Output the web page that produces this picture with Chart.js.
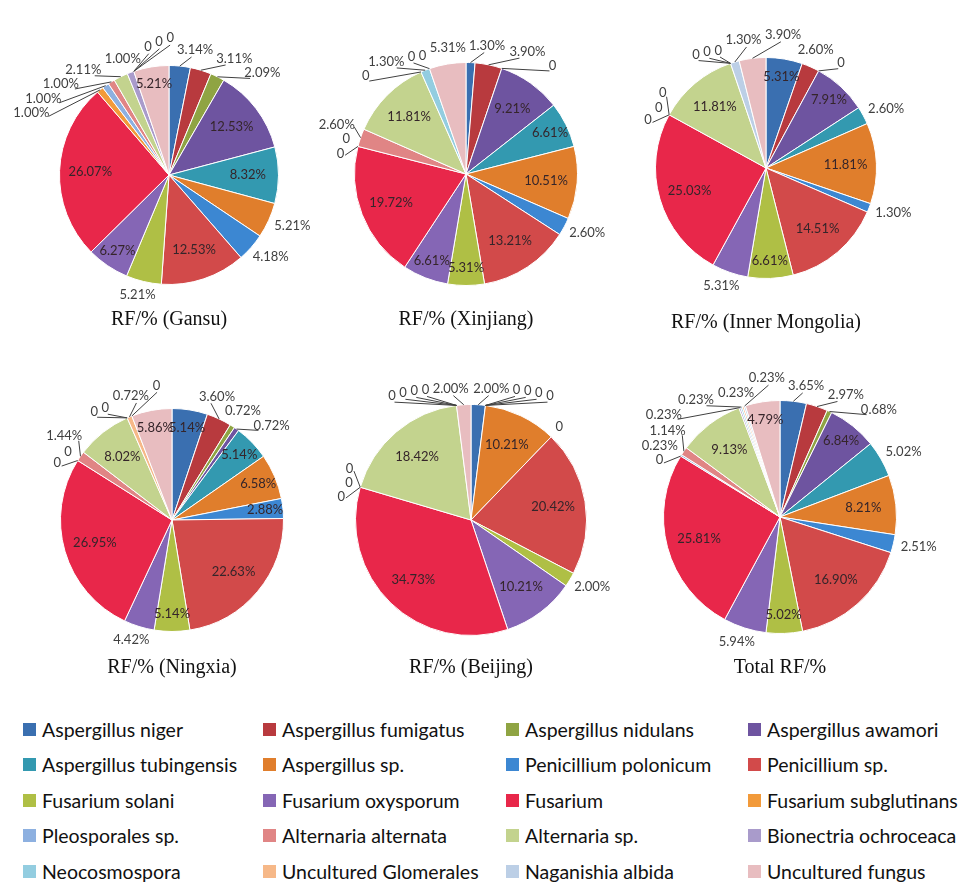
<!DOCTYPE html>
<html>
<head>
<meta charset="utf-8">
<script src="https://cdn.jsdelivr.net/npm/chart.js@4.4.1/dist/chart.umd.min.js"></script>
<style>
  body { margin: 0; background: #fff; }
  #wrap { position: relative; width: 963px; height: 888px; overflow: hidden; }
  #wrap canvas { position: absolute; }
  .leg { position: absolute; display: flex; align-items: center; height: 24px;
         font-family: Lato, sans-serif; font-size: 19.5px; color: #111; white-space: nowrap; }
  .leg i { display: inline-block; width: 13px; height: 13px; margin-right: 6px; }
</style>
</head>
<body>
<div id="wrap"></div>
<script>
// categories, legend order (also clockwise order in every pie)
const categories = [
  'Aspergillus niger', 'Aspergillus fumigatus', 'Aspergillus nidulans', 'Aspergillus awamori',
  'Aspergillus tubingensis', 'Aspergillus sp.', 'Penicillium polonicum', 'Penicillium sp.',
  'Fusarium solani', 'Fusarium oxysporum', 'Fusarium', 'Fusarium subglutinans',
  'Pleosporales sp.', 'Alternaria alternata', 'Alternaria sp.', 'Bionectria ochroceaca',
  'Neocosmospora', 'Uncultured Glomerales', 'Naganishia albida', 'Uncultured fungus'
];

// RF/% per region
const gansu         = [3.14, 3.11, 2.09, 12.53, 8.32, 5.21, 4.18, 12.53, 5.21, 6.27, 26.07, 1.00, 1.00, 1.00, 2.11, 1.00, 0, 0, 0, 5.21];
const xinjiang      = [1.30, 3.90, 0, 9.21, 6.61, 10.51, 2.60, 13.21, 5.31, 6.61, 19.72, 0, 0, 2.60, 11.81, 0, 1.30, 0, 0, 5.31];
const innerMongolia = [5.31, 2.60, 0, 7.91, 2.60, 11.81, 1.30, 14.51, 6.61, 5.31, 25.03, 0, 0, 0, 11.81, 0, 0, 0, 1.30, 3.90];
const ningxia       = [5.14, 3.60, 0.72, 0.72, 5.14, 6.58, 2.88, 22.63, 5.14, 4.42, 26.95, 0, 0, 1.44, 8.02, 0, 0, 0.72, 0, 5.86];
const beijing       = [2.00, 0, 0, 0, 0, 10.21, 0, 20.42, 2.00, 10.21, 34.73, 0, 0, 0, 18.42, 0, 0, 0, 0, 2.00];
const total         = [3.65, 2.97, 0.68, 6.84, 5.02, 8.21, 2.51, 16.90, 5.02, 5.94, 25.81, 0, 0.23, 1.14, 9.13, 0.23, 0.23, 0.23, 0.23, 4.79];

const titles = ['RF/% (Gansu)', 'RF/% (Xinjiang)', 'RF/% (Inner Mongolia)', 'RF/% (Ningxia)', 'RF/% (Beijing)', 'Total RF/%'];
const series = [gansu, xinjiang, innerMongolia, ningxia, beijing, total];

const colors = [
  '#3a6fb0', '#b83a3e', '#8fa443', '#6e54a0',
  '#3399b0', '#e07e2c', '#3c87d2', '#d24a4a',
  '#afbf45', '#8566b5', '#e8274a', '#f29a3a',
  '#8db0e0', '#e08585', '#c3d38e', '#a99bcb',
  '#93cde0', '#f6b888', '#bccfe6', '#e8bdc0'
];

// where each pie sits on the page (centre, radius, title line)
const pieLayout = [
  {cx: 169, cy: 175, r: 110, ty: 320, top: 0},
  {cx: 466, cy: 174, r: 112, ty: 320, top: 0},
  {cx: 766, cy: 168, r: 111, ty: 323, top: 0},
  {cx: 172, cy: 520, r: 112, ty: 668, top: 345},
  {cx: 471, cy: 520, r: 116, ty: 668, top: 345},
  {cx: 780, cy: 517, r: 117, ty: 668, top: 345}
];
// label placement exceptions (slice indices), as Excel placed them
const forcedOutside = [[5, 8], [19], [9], [], [], [4, 9]];
const forcedInside  = [[], [], [], [6], [], [19]];

const CW = 340, CH = 345;

function fmt(v) { return v === 0 ? '0' : v.toFixed(2) + '%'; }
function norm(a) { while (a > Math.PI) a -= 2 * Math.PI; while (a <= -Math.PI) a += 2 * Math.PI; return a; }

const pieLabels = {
  id: 'pieLabels',
  afterDatasetsDraw(chart, args, opts) {
    const ctx = chart.ctx;
    const meta = chart.getDatasetMeta(0);
    const values = chart.data.datasets[0].data;
    const forcedOut = opts.outside || [];
    const forcedIn = opts.inside || [];
    ctx.save();
    ctx.font = '13px Lato';
    ctx.textAlign = 'center';
    ctx.textBaseline = 'middle';
    const outside = [];
    meta.data.forEach(function(arc, i) {
      const p = arc.getProps(['x', 'y', 'startAngle', 'endAngle', 'outerRadius'], true);
      const mid = (p.startAngle + p.endAngle) / 2;
      const v = values[i];
      const text = fmt(v);
      if ((v >= 5 && forcedOut.indexOf(i) < 0) || forcedIn.indexOf(i) >= 0) {
        const k = v >= 8 ? 0.72 : 0.84;
        ctx.fillStyle = '#35252a';
        ctx.fillText(text, p.x + Math.cos(mid) * p.outerRadius * k, p.y + Math.sin(mid) * p.outerRadius * k);
      } else {
        outside.push({a0: mid, a: mid, w: ctx.measureText(text).width + 2, h: 14, text: text,
                      cx: p.x, cy: p.y, r: p.outerRadius});
      }
    });

    function box(l) {
      const R = l.r + 7 + Math.min(18, 40 * Math.abs(norm(l.a - l.a0)));
      const px = l.cx + Math.cos(l.a) * R, py = l.cy + Math.sin(l.a) * R;
      return {px: px, py: py, x: px + Math.cos(l.a) * l.w / 2, y: py + Math.sin(l.a) * l.h / 2};
    }

    // spread overlapping outside labels along the rim
    for (let it = 0; it < 600; it++) {
      let moved = false;
      for (let i = 0; i < outside.length; i++) {
        for (let j = i + 1; j < outside.length; j++) {
          const A = box(outside[i]), B = box(outside[j]);
          if (Math.abs(A.x - B.x) < (outside[i].w + outside[j].w) / 2 + 1 &&
              Math.abs(A.y - B.y) < (outside[i].h + outside[j].h) / 2) {
            const d = norm(outside[j].a - outside[i].a);
            const s = d < 0 ? -1 : 1;
            outside[i].a -= 0.006 * s;
            outside[j].a += 0.006 * s;
            moved = true;
          }
        }
      }
      if (!moved) break;
    }

    ctx.strokeStyle = '#404040';
    ctx.lineWidth = 1;
    outside.forEach(function(l) {
      const b = box(l);
      if (Math.abs(norm(l.a - l.a0)) > 0.05) {
        ctx.beginPath();
        ctx.moveTo(l.cx + Math.cos(l.a0) * l.r, l.cy + Math.sin(l.a0) * l.r);
        ctx.lineTo(b.px, b.py);
        ctx.stroke();
      }
      ctx.fillStyle = '#404040';
      ctx.fillText(l.text, b.x, b.y);
    });
    ctx.restore();
  }
};

const wrap = document.getElementById('wrap');

series.forEach(function(values, n) {
  const L = pieLayout[n];
  const cv = document.createElement('canvas');
  cv.width = CW; cv.height = CH;
  cv.style.left = (L.cx - CW / 2) + 'px';
  cv.style.top = L.top + 'px';
  wrap.appendChild(cv);

  new Chart(cv, {
    type: 'pie',
    data: {
      labels: categories,
      datasets: [{
        data: values,
        backgroundColor: colors,
        borderColor: '#ffffff',
        borderWidth: 1
      }]
    },
    options: {
      responsive: false,
      animation: false,
      layout: {
        padding: {
          left: CW / 2 - L.r,
          right: CW / 2 - L.r,
          top: L.cy - L.top - L.r,
          bottom: CH - (L.ty - L.top + 12)
        }
      },
      plugins: {
        legend: { display: false },
        tooltip: { enabled: false },
        title: {
          display: true,
          text: titles[n],
          position: 'bottom',
          color: '#111',
          font: { family: 'Liberation Serif', size: 20, weight: 'normal' },
          padding: { top: L.ty - 12 - L.cy - L.r, bottom: 0 }
        },
        pieLabels: { outside: forcedOutside[n], inside: forcedInside[n] }
      }
    },
    plugins: [pieLabels]
  });
});

// legend, 4 columns x 5 rows
const legCols = [23, 263, 506, 748];
const legRows = [729, 764.5, 800, 835.5, 871];
categories.forEach(function(name, i) {
  const d = document.createElement('div');
  d.className = 'leg';
  d.style.left = legCols[i % 4] + 'px';
  d.style.top = (legRows[Math.floor(i / 4)] - 12) + 'px';
  d.innerHTML = '<i style="background:' + colors[i] + '"></i>' + name;
  wrap.appendChild(d);
});
</script>
</body>
</html>
